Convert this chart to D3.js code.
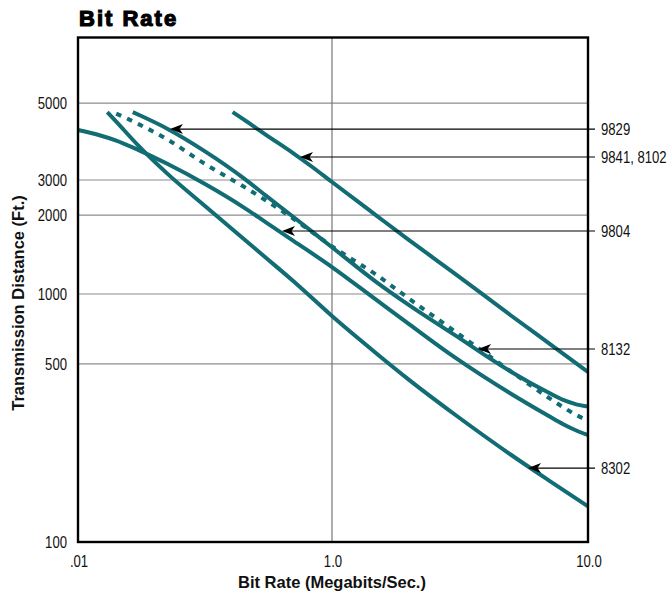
<!DOCTYPE html>
<html>
<head>
<meta charset="utf-8">
<script src="https://cdn.jsdelivr.net/npm/d3@7"></script>
<style>
  body { margin: 0; background: #fff; }
  .tick-label { font-family: "Liberation Sans", Arial, sans-serif; font-size: 16px; fill: #111; }
  .axis-title { font-family: "Liberation Sans", Arial, sans-serif; font-size: 16.5px; font-weight: bold; fill: #111; }
</style>
</head>
<body>
<svg id="chart" width="670" height="595"></svg>
<script>
// tick values / labels
let xTicks = [0.01, 1, 10];
let xTickLabels = [".01", "1.0", "10.0"];
let yTicks = [100, 500, 1000, 2000, 3000, 5000];
let yGrid = [500, 1000, 2000, 3000, 5000];

// series (bit rate Mb/s -> distance ft)
let rate8302 = [0.017, 0.02, 0.03, 0.05, 0.1, 0.2, 0.3, 0.5, 1, 1.5, 2, 3, 5, 7, 10];
let dist8302 = [4710, 4420, 3763, 3140, 2220, 1627, 1378, 1116, 804, 552, 433, 318, 220, 175, 138];

let rate9804 = [0.01, 0.015, 0.02, 0.03, 0.05, 0.1, 0.2, 0.3, 0.5, 1, 1.5, 2, 3, 5, 7, 8, 9, 10];
let dist9804 = [4180, 4031, 3899, 3660, 3346, 2864, 2194, 1881, 1592, 1267, 938, 742, 536, 382, 313, 290, 274, 263];

let rate9829 = [0.027, 0.03, 0.05, 0.1, 0.2, 0.3, 0.5, 1, 1.5, 2, 3, 5, 7, 8, 9, 10];
let dist9829 = [4710, 4627, 4225, 3629, 3044, 2513, 1963, 1508, 1105, 895, 668, 466, 386, 361, 347, 340];

let rate8132 = [0.02, 0.03, 0.05, 0.1, 0.2, 0.3, 0.5, 1, 1.5, 2, 3, 5, 7, 8, 9, 9.6];
let dist8132 = [4664, 4349, 3937, 3338, 2789, 2374, 1932, 1520, 1178, 955, 694, 467, 369, 338, 315, 305];

let rate9841 = [0.165, 0.2, 0.3, 0.5, 0.7, 1, 1.5, 2, 3, 5, 7, 10];
let dist9841 = [4710, 4496, 4057, 3576, 3271, 2931, 1983, 1606, 1202, 808, 616, 465];

// callouts: label and the point the arrow touches
let calloutLabels = ["9829", "9841, 8102", "9804", "8132", "8302"];
let calloutRate = [0.053, 0.56, 0.404, 3.72, 5.83];
let calloutDist = [4207, 3494, 1738, 580, 195];

let margin = { left: 78, top: 37.5, right: 82, bottom: 53 };
let width = 670 - margin.left - margin.right;
let height = 595 - margin.top - margin.bottom;
let teal = "#126c74";
let narrow = 0.82;   // the printed labels use a condensed face

// the printed axes are not evenly logarithmic, so the scales are piecewise
let xScale = d3.scaleLog()
    .domain(xTicks)
    .range([0, width * 0.498, width]);

let yStops = [0, 0.353, 0.4916, 0.648, 0.7175, 0.870];
let yScale = d3.scaleLog()
    .domain(yTicks)
    .range(yStops.map(f => height * (1 - f)));

let svg = d3.select("#chart");

svg.append("text")
    .attr("x", margin.left + 1)
    .attr("y", 26)
    .attr("font-family", "Liberation Sans, Arial, sans-serif")
    .attr("font-size", 22)
    .attr("font-weight", "bold")
    .attr("letter-spacing", 2)
    .attr("stroke", "#000")
    .attr("stroke-width", 1.2)
    .text("Bit Rate");

let body = svg.append("g")
    .attr("transform", `translate(${margin.left},${margin.top})`);

// grid
body.selectAll(".hgrid").data(yGrid).enter().append("line")
    .attr("x1", 0).attr("x2", width)
    .attr("y1", d => yScale(d)).attr("y2", d => yScale(d))
    .attr("stroke", "#8c8c8c").attr("stroke-width", 1.2);

body.append("line")
    .attr("x1", xScale(1)).attr("x2", xScale(1))
    .attr("y1", 0).attr("y2", height)
    .attr("stroke", "#777").attr("stroke-width", 1.2);

// tick labels
body.selectAll(".ylab").data(yTicks).enter().append("text")
    .attr("class", "tick-label")
    .attr("transform", d => `translate(-11,${yScale(d)}) scale(${narrow},1)`)
    .attr("dy", "0.35em")
    .attr("text-anchor", "end")
    .text(d => d);

body.selectAll(".xlab").data(xTicks).enter().append("text")
    .attr("class", "tick-label")
    .attr("transform", d => `translate(${xScale(d) + 1},${height + 25}) scale(${narrow},1)`)
    .attr("text-anchor", "middle")
    .text((d, i) => xTickLabels[i]);

// curves
let lineGenerator = d3.line()
    .x(d => xScale(d.rate))
    .y(d => yScale(d.dist))
    .curve(d3.curveMonotoneX);

let makeSeries = (rates, dists) => rates.map((r, i) => ({ rate: r, dist: dists[i] }));

let series = [
    { pts: makeSeries(rate8302, dist8302), dash: null },
    { pts: makeSeries(rate9804, dist9804), dash: null },
    { pts: makeSeries(rate9829, dist9829), dash: null },
    { pts: makeSeries(rate9841, dist9841), dash: null },
    { pts: makeSeries(rate8132, dist8132), dash: "5.5,6.5" }
];

body.selectAll(".curve").data(series).enter().append("path")
    .attr("d", d => lineGenerator(d.pts))
    .attr("fill", "none")
    .attr("stroke", teal)
    .attr("stroke-width", 4)
    .attr("stroke-dasharray", d => d.dash);

// frame
body.append("rect")
    .attr("width", width).attr("height", height)
    .attr("fill", "none")
    .attr("stroke", "#000")
    .attr("stroke-width", 2.4);

// callouts
let callouts = calloutLabels.map((l, i) => ({ label: l, rate: calloutRate[i], dist: calloutDist[i] }));

let co = body.selectAll(".callout").data(callouts).enter().append("g");

co.append("line")
    .attr("x1", d => xScale(d.rate) + 4)
    .attr("x2", width + 7)
    .attr("y1", d => yScale(d.dist))
    .attr("y2", d => yScale(d.dist))
    .attr("stroke", "#000")
    .attr("stroke-width", 1.1);

co.append("path")
    .attr("transform", d => `translate(${xScale(d.rate)},${yScale(d.dist)})`)
    .attr("d", "M0,0L13,-5L9.5,0L13,5Z")
    .attr("fill", "#000");

co.append("text")
    .attr("class", "tick-label")
    .attr("transform", d => `translate(${width + 13},${yScale(d.dist)}) scale(${narrow},1)`)
    .attr("dy", "0.35em")
    .text(d => d.label);

// axis titles
svg.append("text")
    .attr("class", "axis-title")
    .attr("x", margin.left + xScale(1))
    .attr("y", 588)
    .attr("text-anchor", "middle")
    .text("Bit Rate (Megabits/Sec.)");

svg.append("text")
    .attr("class", "axis-title")
    .attr("transform", "translate(24,303) rotate(-90)")
    .attr("text-anchor", "middle")
    .text("Transmission Distance (Ft.)");
</script>
</body>
</html>
